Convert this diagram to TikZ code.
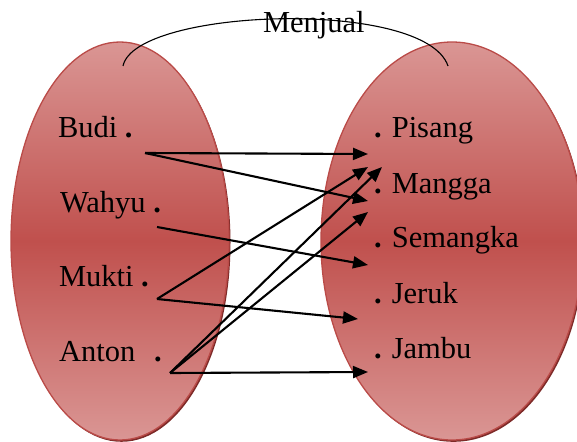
\documentclass[tikz,border=0pt]{standalone}
\usepackage{fontspec}
\setmainfont{Liberation Serif}
\usetikzlibrary{shapes.geometric,arrows.meta}
\definecolor{lightred}{RGB}{218,150,148}
\definecolor{darkred}{RGB}{192,80,77}
\definecolor{edgered}{RGB}{186,75,72}
\definecolor{shadowred}{RGB}{125,42,40}
\newcommand{\dt}{\textbf{.}}
\begin{document}
\begin{tikzpicture}[x=1pt,y=-1pt,
  setbox/.style={ellipse, inner sep=0pt, outer sep=0pt, draw=edgered, line width=1.3pt,
    top color=lightred, bottom color=lightred, middle color=darkred},
  shadowbox/.style={ellipse, inner sep=0pt, outer sep=0pt, fill=shadowred},
  lbl/.style={anchor=base west, inner sep=0pt, outer sep=0pt, font=\fontsize{30.5}{36}\selectfont},
  arr/.style={line width=2.1pt, -{Triangle[length=15pt,width=12pt]}},
  arcline/.style={line width=1.1pt},
]
\useasboundingbox (0,0) rectangle (577,441);
\clip (0,0) rectangle (577,441);
% sets
\node[shadowbox, minimum width=218pt, minimum height=398pt] (Ash) at (121.5,242.8) {};
\node[shadowbox, minimum width=262pt, minimum height=398pt] (Bsh) at (453.5,242.8) {};
\node[setbox, minimum width=218pt, minimum height=398pt] (A) at (120,241) {};
\node[setbox, minimum width=262pt, minimum height=398pt] (B) at (452,241) {};
% relation arc
\coordinate (m0) at (123,66);
\coordinate (m1) at (448,66);
\draw[arcline] (m0) .. controls (135,8) and (425,-2) .. (m1);
\node[lbl] (menjual) at (263,33) {Menjual};
% domain
\node[lbl] (budi) at (58,137) {Budi \dt};
\node[lbl] (wahyu) at (60,212) {Wahyu \dt};
\node[lbl] (mukti) at (59,286) {Mukti \dt};
\node[lbl] (anton) at (59,361) {Anton\hspace{0.62em}\dt};
% codomain
\node[lbl] (pisang) at (374,137) {\dt{} Pisang};
\node[lbl] (mangga) at (374,193) {\dt{} Mangga};
\node[lbl] (semangka) at (374,247) {\dt{} Semangka};
\node[lbl] (jeruk) at (374,303) {\dt{} Jeruk};
\node[lbl] (jambu) at (374,358) {\dt{} Jambu};
% arrow ends
\coordinate (sB) at (145,153);
\coordinate (sW) at (157,227);
\coordinate (sM) at (157,299);
\coordinate (sA) at (170,373);
\coordinate (t1) at (368,154);
\coordinate (t2) at (368,201);
\coordinate (t3) at (368,265);
\coordinate (t4) at (368,167);
\coordinate (t5) at (358,319);
\coordinate (t6) at (382,167);
\coordinate (t7) at (368,212);
\coordinate (t8) at (368,372);
\draw[arr] (sB) -- (t1);
\draw[arr] (sB) -- (t2);
\draw[arr] (sW) -- (t3);
\draw[arr] (sM) -- (t4);
\draw[arr] (sM) -- (t5);
\draw[arr] (sA) -- (t6);
\draw[arr] (sA) -- (t7);
\draw[arr] (sA) -- (t8);
\end{tikzpicture}
\end{document}
